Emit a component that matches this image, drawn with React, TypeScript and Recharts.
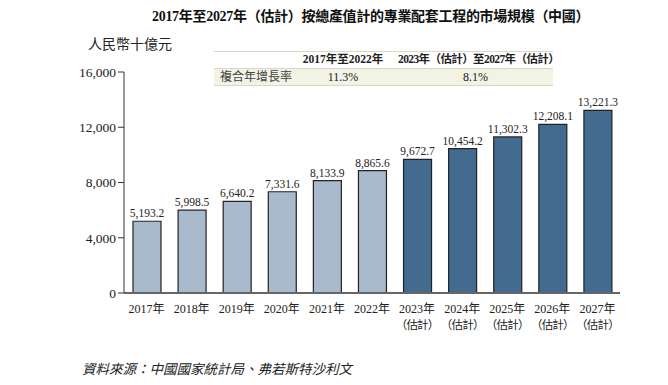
import React from "react";
import { BarChart, Bar, XAxis, YAxis, Cell, LabelList } from "recharts";

const years = ["2017", "2018", "2019", "2020", "2021", "2022", "2023", "2024", "2025", "2026", "2027"];
const marketSize = [5193.2, 5998.5, 6640.2, 7331.6, 8133.9, 8865.6, 9672.7, 10454.2, 11302.3, 12208.1, 13221.3];
const isForecast = [false, false, false, false, false, false, true, true, true, true, true];
const yTicks = [0, 4000, 8000, 12000, 16000];

const periodLabels = ["2017年至2022年", "2023年（估計）至2027年（估計）"];
const cagrValues = ["11.3%", "8.1%"];

const title = "2017年至2027年（估計）按總產值計的專業配套工程的市場規模（中國）";
const unitLabel = "人民幣十億元";
const sourceNote = "資料來源：中國國家統計局、弗若斯特沙利文";

const serif = "'Liberation Serif', 'Times New Roman', 'Noto Sans CJK TC', serif";
const lightBar = "#a9bacd";
const darkBar = "#436b90";
const ruleColor = "#d8d8c6";

const data = years.map((y, i) => ({
  year: y,
  value: marketSize[i],
  forecast: isForecast[i],
}));

const fmt = (v: number) =>
  v.toLocaleString("en-US", { minimumFractionDigits: 1, maximumFractionDigits: 1 });

function YearTick(props: any) {
  const { x, y, payload, index } = props;
  const forecast = isForecast[index];
  return (
    <g transform={`translate(${x},${y})`}>
      <text x={0} y={12} textAnchor="middle" fontSize={12} fill="#222" fontFamily={serif}>
        {payload.value}年
      </text>
      {forecast && (
        <text x={0} y={28} textAnchor="middle" fontSize={11.5} letterSpacing={-0.8} fill="#222" fontFamily={serif}>
          （估計）
        </text>
      )}
    </g>
  );
}

const cell = (left: number, top: number, width: number, text: string, extra: React.CSSProperties = {}) => (
  <div
    style={{
      position: "absolute",
      left,
      top,
      width,
      textAlign: "center",
      whiteSpace: "nowrap",
      lineHeight: "17px",
      ...extra,
    }}
  >
    {text}
  </div>
);

export default function App() {
  return (
    <div style={{ position: "absolute", left: 0, top: 0, width: 668, height: 385, background: "#fff", fontFamily: serif }}>
      <div style={{ position: "absolute", left: 152, top: 5, whiteSpace: "nowrap", fontSize: 14, fontWeight: "bold", color: "#111", letterSpacing: -0.3 }}>
        {title}
      </div>
      <div style={{ position: "absolute", left: 88, top: 33, fontSize: 14, color: "#222" }}>{unitLabel}</div>

      <div style={{ position: "absolute", left: 214, top: 51, width: 339, height: 35, fontSize: 11.5, color: "#222" }}>
        <div style={{ position: "absolute", left: 0, top: 0, width: 339, height: 18, borderTop: `1px solid ${ruleColor}`, borderBottom: `1px solid ${ruleColor}`, boxSizing: "border-box" }} />
        <div style={{ position: "absolute", left: 0, top: 18, width: 339, height: 17, background: "#f2f2e5", borderBottom: `1px solid ${ruleColor}`, boxSizing: "border-box" }} />
        {cell(79, 0, 100, periodLabels[0], { fontWeight: "bold" })}
        {cell(184, 0, 155, periodLabels[1], { fontWeight: "bold", letterSpacing: -0.6 })}
        {cell(6, 18, 80, "複合年增長率", { textAlign: "left", color: "#444", fontSize: 12 })}
        {cell(79, 18, 100, cagrValues[0], { fontSize: 12 })}
        {cell(184, 18, 155, cagrValues[1], { fontSize: 12 })}
      </div>

      <div style={{ position: "absolute", left: 0, top: 0 }}>
        <BarChart
          width={668}
          height={385}
          data={data}
          margin={{ top: 72, right: 48, bottom: 52, left: 0 }}
          barSize={28}
        >
          <XAxis
            dataKey="year"
            tick={<YearTick />}
            tickLine={false}
            axisLine={{ stroke: "#666", strokeWidth: 2 }}
            height={40}
            interval={0}
          />
          <YAxis
            width={124}
            domain={[0, 16000]}
            ticks={yTicks}
            tickFormatter={(v: number) => v.toLocaleString("en-US")}
            tick={{ fontSize: 13.5, fill: "#222", fontFamily: serif }}
            tickLine={{ stroke: "#333" }}
            tickSize={6}
            axisLine={{ stroke: "#333" }}
            allowDataOverflow
          />
          <Bar dataKey="value" stroke="#222" strokeWidth={1.2} isAnimationActive={false}>
            {data.map((d, i) => (
              <Cell key={i} fill={d.forecast ? darkBar : lightBar} />
            ))}
            <LabelList
              dataKey="value"
              position="top"
              offset={4}
              formatter={(v: any) => fmt(Number(v))}
              style={{ fontSize: 11.5, fill: "#222", fontFamily: serif }}
            />
          </Bar>
        </BarChart>
      </div>

      <div style={{ position: "absolute", left: 82, top: 358, fontSize: 13.5, fontStyle: "italic", color: "#222" }}>
        {sourceNote}
      </div>
    </div>
  );
}
